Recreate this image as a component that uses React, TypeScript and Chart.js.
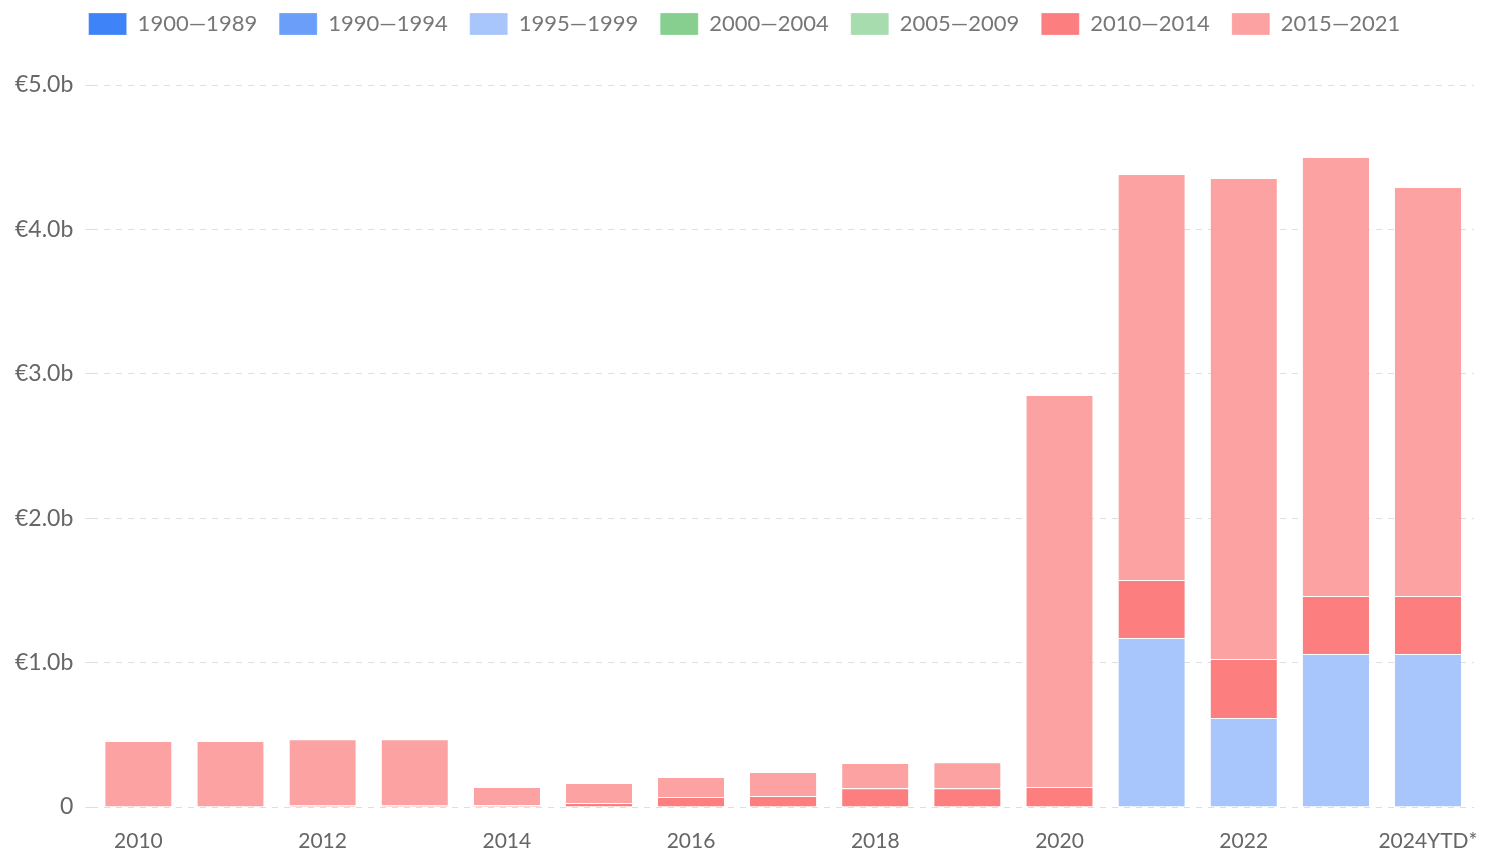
import React, { useEffect, useRef } from "react";
import { Chart, registerables } from "chart.js";

Chart.register(...registerables);

const categories = ["2010", "2011", "2012", "2013", "2014", "2015", "2016", "2017", "2018", "2019", "2020", "2021", "2022", "2023", "2024YTD*"];
const seriesNames = ["1900—1989", "1990—1994", "1995—1999", "2000—2004", "2005—2009", "2010—2014", "2015—2021"];
const seriesColors = ["#3f83f8", "#6a9ef8", "#a8c6fb", "#86cf8f", "#a6dcae", "#fc7e7e", "#fca2a2"];
const v1900_1989 = [0, 0, 0, 0, 0, 0, 0, 0, 0, 0, 0, 0, 0, 0, 0];
const v1990_1994 = [0, 0, 0, 0, 0, 0, 0, 0, 0, 0, 0, 0, 0, 0, 0];
const v1995_1999 = [0, 0, 0, 0, 0, 0, 0, 0, 0, 0, 0, 1.17, 0.616, 1.06, 1.06];
const v2000_2004 = [0, 0, 0, 0, 0, 0, 0, 0, 0, 0, 0, 0, 0, 0, 0];
const v2005_2009 = [0, 0, 0, 0, 0, 0, 0, 0, 0, 0, 0, 0, 0, 0, 0];
const v2010_2014 = [0, 0, 0.01, 0.01, 0.012, 0.028, 0.07, 0.076, 0.13, 0.13, 0.138, 0.402, 0.409, 0.401, 0.401];
const v2015_2021 = [0.457, 0.457, 0.46, 0.46, 0.127, 0.138, 0.138, 0.166, 0.175, 0.18, 2.715, 2.812, 3.331, 3.04, 2.833];
const yTicks = [0, 1, 2, 3, 4, 5];

const seriesValues = [v1900_1989, v1990_1994, v1995_1999, v2000_2004, v2005_2009, v2010_2014, v2015_2021];

const legendSpacer = {
  id: "legendSpacer",
  beforeInit(chart: any) {
    const legend = chart.legend;
    if (!legend) return;
    const origFit = legend.fit;
    legend.fit = function () {
      origFit.call(this);
      this.height += 40;
    };
  },
};

export default function App() {
  const ref = useRef<HTMLCanvasElement | null>(null);
  useEffect(() => {
    if (!ref.current) return;
    const font = "Lato, 'Noto Sans', sans-serif";
    const chart = new Chart(ref.current, {
      type: "bar",
      data: {
        labels: categories,
        datasets: seriesNames.map((name, i) => ({
          label: name,
          data: seriesValues[i],
          backgroundColor: seriesColors[i],
          borderColor: "#ffffff",
          borderWidth: { top: 1, bottom: 0, left: 0, right: 0 },
          borderSkipped: false,
          categoryPercentage: 0.72,
          barPercentage: 1,
        })),
      },
      plugins: [legendSpacer],
      options: {
        animation: false,
        responsive: false,
        maintainAspectRatio: false,
        layout: { padding: { left: 15, right: 12, top: -9, bottom: 13 } },
        plugins: {
          legend: {
            position: "top",
            align: "center",
            labels: {
              boxWidth: 38,
              boxHeight: 22,
              padding: 22,
              color: "#777777",
              font: { family: font, size: 22 },
            },
          },
          tooltip: { enabled: false },
        },
        scales: {
          x: {
            stacked: true,
            grid: { display: true, drawOnChartArea: false, drawTicks: true, tickLength: 24, tickColor: "rgba(0,0,0,0)" },
            border: { display: false },
            ticks: {
              autoSkip: false,
              maxRotation: 0,
              padding: 0,
              color: "#666666",
              font: { family: font, size: 21, lineHeight: 1 },
              callback: (_v: any, i: number) => (i % 2 === 0 ? categories[i] : ""),
            },
          },
          y: {
            stacked: true,
            min: 0,
            max: 5,
            afterBuildTicks: (axis: any) => {
              axis.ticks = yTicks.map((v) => ({ value: v }));
            },
            grid: { color: "#dedede", lineWidth: 1, drawTicks: true, tickLength: 19, tickBorderDash: [0, 12, 7, 0] },
            border: { display: false, dash: [6, 6] },
            ticks: {
              padding: 0,
              color: "#666666",
              font: { family: font, size: 23 },
              callback: (v: any) => (v === 0 ? "0" : "€" + Number(v).toFixed(1) + "b"),
            },
          },
        },
      },
    } as any);
    return () => chart.destroy();
  }, []);
  return (
    <div style={{ position: "fixed", left: 0, top: 0, width: 1486, height: 865, background: "#fff" }}>
      <canvas ref={ref} width={1486} height={865} style={{ width: 1486, height: 865 }} />
    </div>
  );
}
